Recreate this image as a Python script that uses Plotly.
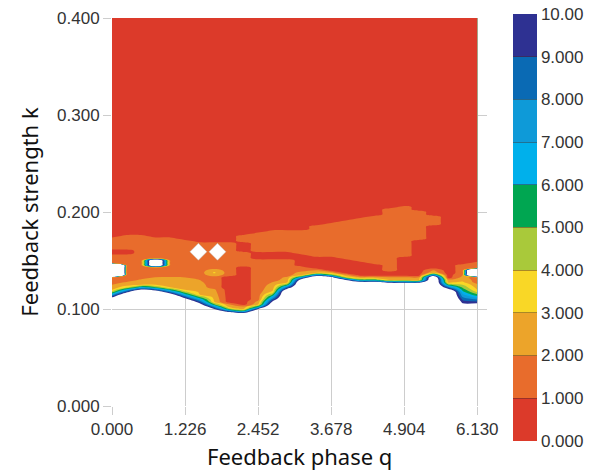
import numpy as np
import plotly.graph_objects as go

# Feedback phase q grid (columns of the stability map)
phase_q = [0.0, 0.2452, 0.4904, 0.7356, 0.9808, 1.226, 1.4712, 1.7164, 1.9616,
           2.2068, 2.452, 2.6972, 2.9424, 3.1876, 3.4328, 3.678, 3.9232, 4.1684,
           4.4136, 4.6588, 4.904, 5.1492, 5.3944, 5.6396, 5.8848, 6.13]

# Per-column feedback strength k where the response reaches 10 (lower edge),
# 3 (top of the yellow/blue ramp) and 2 (top of the light-orange layer)
edge_k10 = [0.112, 0.117, 0.120, 0.119, 0.116, 0.111, 0.106, 0.100, 0.097,
            0.096, 0.100, 0.108, 0.121, 0.131, 0.134, 0.133, 0.130, 0.128,
            0.128, 0.127, 0.127, 0.127, 0.134, 0.121, 0.106, 0.106]
edge_k3 = [0.119, 0.123, 0.125, 0.124, 0.122, 0.119, 0.115, 0.107, 0.101,
           0.099, 0.104, 0.118, 0.127, 0.135, 0.137, 0.136, 0.133, 0.131,
           0.131, 0.130, 0.130, 0.130, 0.137, 0.127, 0.128, 0.119]
edge_k2 = [0.125, 0.128, 0.131, 0.133, 0.134, 0.133, 0.130, 0.122, 0.105,
           0.103, 0.109, 0.128, 0.134, 0.139, 0.140, 0.139, 0.136, 0.134,
           0.134, 0.133, 0.133, 0.133, 0.140, 0.132, 0.135, 0.127]

# k intervals per column where the value lies between 1 and 2
band_12 = [
    [(0.125, 0.156), (0.161, 0.174)],
    [(0.128, 0.156), (0.161, 0.177)],
    [(0.131, 0.176)],
    [(0.133, 0.174)],
    [(0.134, 0.173)],
    [(0.133, 0.171)],
    [(0.130, 0.169)],
    [(0.122, 0.168)],
    [(0.133, 0.169)],
    [(0.143, 0.158), (0.168, 0.176)],
    [(0.109, 0.150), (0.158, 0.178)],
    [(0.128, 0.151), (0.160, 0.180)],
    [(0.134, 0.151), (0.160, 0.181)],
    [(0.139, 0.143), (0.157, 0.182)],
    [(0.155, 0.185)],
    [(0.154, 0.189)],
    [(0.152, 0.192)],
    [(0.149, 0.194)],
    [(0.147, 0.197)],
    [(0.140, 0.204)],
    [(0.154, 0.205)],
    [(0.171, 0.200)],
    [(0.186, 0.196)],
    [],
    [(0.135, 0.145)],
    [(0.127, 0.148)],
]

# Isolated peaks: column index, k range, peak value
peak_col = [0, 3, 7, 7, 25]
peak_k_lo = [0.135, 0.145, 0.135, 0.1375, 0.135]
peak_k_hi = [0.145, 0.150, 0.140, 0.1375, 0.140]
peak_val = [60.0, 17.0, 2.6, 3.15, 30.0]

# Unresolved points drawn as white diamonds
gap_q = [1.45, 1.77]
gap_k = [0.159, 0.159]

# Colour bands 0-1, 1-2, ..., 9-10
band_colors = ["#dc3a2a", "#e86c2c", "#eca42a", "#f9d726", "#a9c93a",
               "#00a651", "#00b0eb", "#0e9ad8", "#0a6ab4", "#2e3192"]
cbar_ticks = [0, 1, 2, 3, 4, 5, 6, 7, 8, 9, 10]
cbar_text = ["0.000", "1.000", "2.000", "3.000", "4.000", "5.000",
             "6.000", "7.000", "8.000", "9.000", "10.00"]
q_ticks = [0.0, 1.226, 2.452, 3.678, 4.904, 6.13]
k_ticks = [0.0, 0.1, 0.2, 0.3, 0.4]

# strength k grid: fine near the stability edge, coarse elsewhere
strength_k = [0.0, 0.04, 0.08] + list(np.round(np.arange(0.085, 0.2151, 0.0025), 4)) \
             + [0.25, 0.3, 0.35, 0.4]


def value_at(c, k):
    k10, k3, k2 = edge_k10[c], edge_k3[c], edge_k2[c]
    if k <= k3:
        return min(3.0 + (k3 - k) * 7.0 / (k3 - k10), 14.0)
    if k <= k2:
        return 2.0 + (k2 - k) / (k2 - k3)
    for lo, hi in band_12[c]:
        if lo <= k <= hi:
            return 1.5
    return 0.5


field = np.array([[value_at(c, k) for c in range(len(phase_q))] for k in strength_k])
for c, lo, hi, v in zip(peak_col, peak_k_lo, peak_k_hi, peak_val):
    for r, k in enumerate(strength_k):
        if lo - 1e-9 <= k <= hi + 1e-9:
            field[r, c] = max(field[r, c], v)

# The map is drawn on the negated field so the region above 10 becomes the
# contour background, which is left transparent.
fill_scale = [[0.0, "rgba(255,255,255,0)"]]
for i, col in enumerate(reversed(band_colors)):
    fill_scale.append([(i + 1) / 10, col])

step_scale = []
for i, col in enumerate(band_colors):
    step_scale.append([i / 10, col])
    step_scale.append([(i + 1) / 10, col])

grid_col = "#cdcdcd"
tick_font = dict(family="Liberation Sans, Arial, sans-serif", size=17, color="#333333")
title_font = dict(family="Noto Sans, sans-serif", size=22, color="#111111")

fig = go.Figure()
fig.add_trace(go.Contour(
    x=phase_q, y=strength_k, z=-field,
    colorscale=fill_scale, showscale=False,
    contours=dict(start=-10, end=-1, size=1, coloring="fill"),
    line=dict(width=0), hoverinfo="skip",
))
fig.add_trace(go.Scatter(
    x=gap_q, y=gap_k, mode="markers", hoverinfo="skip", showlegend=False,
    marker=dict(symbol="diamond", size=13, color="white",
                line=dict(color="rgba(190,190,190,0.8)", width=0.6)),
))
# colour key
fig.add_trace(go.Scatter(
    x=[-1, -1], y=[-1, -1], mode="markers", hoverinfo="skip", showlegend=False,
    marker=dict(color=[0, 10], cmin=0, cmax=10, colorscale=step_scale, showscale=True,
                colorbar=dict(
                    xref="container", x=513 / 599, xanchor="left", xpad=0,
                    yref="container", y=1 - 17 / 474, yanchor="top", ypad=0,
                    lenmode="pixels", len=427, thickness=24,
                    outlinewidth=0,
                    tickvals=cbar_ticks, ticktext=cbar_text,
                    ticks="inside", ticklen=24, tickwidth=1,
                    tickcolor="rgba(70,40,40,0.45)",
                    tickfont=tick_font,
                )),
))

fig.update_layout(
    width=599, height=474,
    margin=dict(l=112, r=112, t=18, b=68, autoexpand=False),
    paper_bgcolor="white", plot_bgcolor="white",
    showlegend=False,
    xaxis=dict(range=[0, 6.293], tickvals=q_ticks,
               ticktext=["%.3f" % v for v in q_ticks],
               showgrid=True, gridcolor=grid_col, gridwidth=1,
               ticks="outside", ticklen=8, tickcolor=grid_col,
               zeroline=False, showline=False, tickfont=tick_font),
    yaxis=dict(range=[0, 0.4], tickvals=k_ticks,
               ticktext=["%.3f" % v for v in k_ticks],
               showgrid=True, gridcolor=grid_col, gridwidth=1,
               ticks="outside", ticklen=8, tickcolor=grid_col,
               zeroline=False, showline=False, tickfont=tick_font,
               title=dict(text="Feedback strength k", font=title_font, standoff=12)),
    annotations=[dict(text="Feedback phase q", font=title_font, showarrow=False,
                      xref="paper", yref="paper", x=0.5, y=-50 / 388,
                      xanchor="center", yanchor="middle")],
)

fig.write_html("out.html")
